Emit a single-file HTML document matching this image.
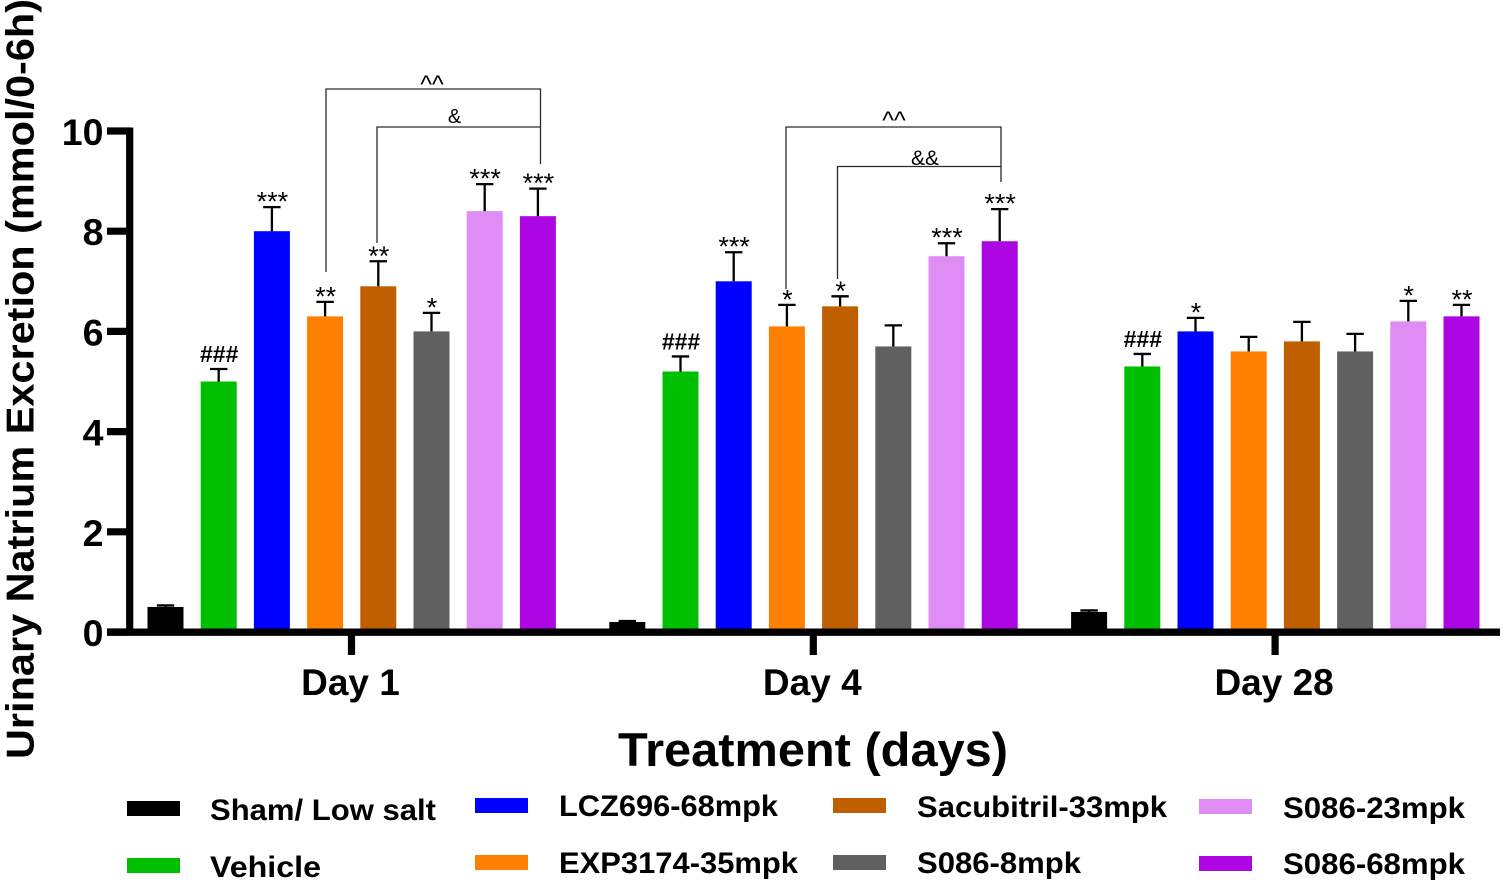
<!DOCTYPE html>
<html>
<head>
<meta charset="utf-8">
<title>Urinary Natrium Excretion</title>
<style>
html,body{margin:0;padding:0;background:#fff;}
svg{display:block;font-family:"Liberation Sans",sans-serif;}
</style>
</head>
<body>
<svg id="chart" width="1505" height="884" viewBox="0 0 1505 884" xmlns="http://www.w3.org/2000/svg"></svg>
<script>
const groups = ['Day 1', 'Day 4', 'Day 28'];
const seriesNames = ['Sham/ Low salt', 'Vehicle', 'LCZ696-68mpk', 'EXP3174-35mpk', 'Sacubitril-33mpk', 'S086-8mpk', 'S086-23mpk', 'S086-68mpk'];
const seriesColors = ['#000000', '#00bf00', '#0000ff', '#ff8000', '#bf5f00', '#606060', '#df8cf5', '#ac07e2'];
const day1Values = [0.5, 5.0, 8.0, 6.3, 6.9, 6.0, 8.4, 8.3];
const day4Values = [0.2, 5.2, 7.0, 6.1, 6.5, 5.7, 7.5, 7.8];
const day28Values = [0.4, 5.3, 6.0, 5.6, 5.8, 5.6, 6.2, 6.3];
const day1Errors = [0.03, 0.25, 0.48, 0.29, 0.5, 0.37, 0.54, 0.55];
const day4Errors = [0.02, 0.3, 0.58, 0.43, 0.2, 0.42, 0.26, 0.64];
const day28Errors = [0.03, 0.25, 0.27, 0.29, 0.39, 0.35, 0.41, 0.23];
const day1Marks = ['', '###', '***', '**', '**', '*', '***', '***'];
const day4Marks = ['', '###', '***', '*', '*', '', '***', '***'];
const day28Marks = ['', '###', '*', '', '', '', '*', '**'];
const yTicks = [0, 2, 4, 6, 8, 10];

const values = [day1Values, day4Values, day28Values];
const errors = [day1Errors, day4Errors, day28Errors];
const marks = [day1Marks, day4Marks, day28Marks];

const NS = 'http://www.w3.org/2000/svg';
const svg = document.getElementById('chart');

function make(tag, attrs, text) {
  const el = document.createElementNS(NS, tag);
  for (const k in attrs) el.setAttribute(k, attrs[k]);
  if (text !== undefined) el.textContent = text;
  svg.appendChild(el);
  return el;
}
const yScale = v => 632 - v * 50.1;
const groupCenter = g => 351.5 + g * 461.8;
const barCenter = (g, s) => groupCenter(g) - 186 + s * 53.2;
const BAR_W = 36;

/* bars and error bars */
groups.forEach((gName, g) => {
  seriesNames.forEach((sName, s) => {
    const x = barCenter(g, s);
    const v = values[g][s];
    const top = yScale(v);
    const errTop = yScale(v + errors[g][s]);
    const bar = make('rect', {x: x - BAR_W / 2, y: top, width: BAR_W, height: 632 - top, fill: seriesColors[s]});
    
    
    const stem = make('line', {x1: x, x2: x, y1: top, y2: errTop, stroke: '#000', 'stroke-width': 2.3});
    
    
    const cap = make('line', {x1: x - 8.7, x2: x + 8.7, y1: errTop, y2: errTop, stroke: '#000', 'stroke-width': 2.3});
    
    
    const m = marks[g][s];
    if (m) {
      const isHash = m[0] === '#';
      const label = make('text', {x: x + 0.5, y: isHash ? errTop - 7 : errTop + 3.5, 'text-anchor': 'middle', 'font-size': isHash ? 23 : 27, 'font-weight': isHash ? 'bold' : 'normal', fill: '#000'}, m);
      
      
    }
  });
});

/* comparison brackets */
function bracket(x1, x2, yTop, yLeft, yRight, label, lx, ly, fs) {
  const p = make('path', {d: `M${x1} ${yLeft}V${yTop}H${x2}V${yRight}`, fill: 'none', stroke: '#2a2a2a', 'stroke-width': 1.3});
  
  
  const t = make('text', {x: lx, y: ly, 'text-anchor': 'middle', 'font-size': fs, fill: '#000'}, label);
  
  
}
bracket(326, 540.5, 89, 272, 164, '^^', 432, 92.5, 25);
bracket(377, 540.5, 127, 243, 127, '&', 454.5, 123, 20);
bracket(786, 1001, 127, 289, 182, '^^', 894, 128.5, 25);
bracket(837.5, 1001, 166.5, 279, 166.5, '&&', 925, 165, 21);

/* axes */
const yAxis = make('line', {x1: 129.7, x2: 129.7, y1: 127.5, y2: 635, stroke: '#000', 'stroke-width': 7.2});


const xAxis = make('line', {x1: 107, x2: 1500, y1: 632.2, y2: 632.2, stroke: '#000', 'stroke-width': 7.4});



yTicks.forEach(t => {
  const y = yScale(t);
  const tick = make('line', {x1: 107, x2: 130, y1: y, y2: y, stroke: '#000', 'stroke-width': 7.2});
  
  
  const lab = make('text', {x: 103.5, y: y + 14, 'text-anchor': 'end', 'font-size': 37.5, 'font-weight': 'bold', fill: '#000'}, String(t));
  
  
});
groups.forEach((gName, g) => {
  const x = groupCenter(g);
  const tick = make('line', {x1: x, x2: x, y1: 632, y2: 655, stroke: '#000', 'stroke-width': 7.2});
  
  
  const lab = make('text', {x: x - 1, y: 695, 'text-anchor': 'middle', 'font-size': 37, 'font-weight': 'bold', fill: '#000'}, gName);
  
  
});

/* axis titles */
const yTitle = make('text', {transform: 'translate(33.5,379) rotate(-90)', 'text-anchor': 'middle', 'font-size': 38.5, 'font-weight': 'bold', fill: '#000', textLength: 760, lengthAdjust: 'spacingAndGlyphs'}, 'Urinary Natrium Excretion (mmol/0-6h)');


const xTitle = make('text', {x: 813, y: 766, 'text-anchor': 'middle', 'font-size': 47, 'font-weight': 'bold', fill: '#000', textLength: 390, lengthAdjust: 'spacingAndGlyphs'}, 'Treatment (days)');



/* legend */
const legendSwatchX = [127, 127, 475, 475, 833, 833, 1199, 1199];
const legendSwatchY = [801, 858, 798, 855, 798, 855, 799, 856];
const legendTextX = [210, 210, 559, 559, 917, 917, 1283, 1283];
const legendTextY = [820, 877, 816, 873, 817, 873, 818, 874];
const legendTextW = [226, 111, 219, 239, 250, 164, 182, 182];
seriesNames.forEach((name, i) => {
  const sw = make('rect', {x: legendSwatchX[i], y: legendSwatchY[i], width: 53, height: 15, fill: seriesColors[i]});
  
  
  const lab = make('text', {x: legendTextX[i], y: legendTextY[i], 'font-size': 29.5, 'font-weight': 'bold', fill: '#000', textLength: legendTextW[i], lengthAdjust: 'spacingAndGlyphs'}, name);
  
  
});
</script>
</body>
</html>
